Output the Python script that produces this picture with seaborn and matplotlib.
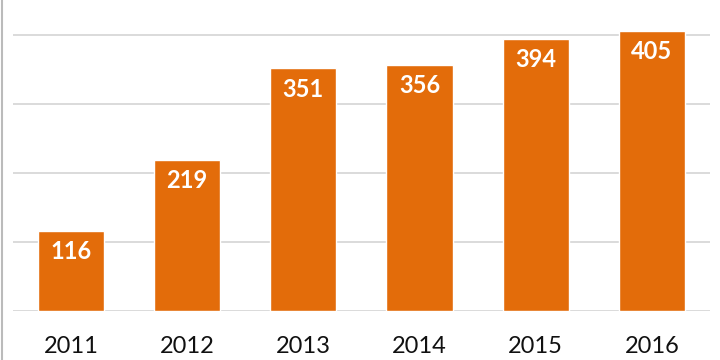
import matplotlib
matplotlib.use("Agg")
import matplotlib.pyplot as plt
import seaborn as sns
import pandas as pd

# ============================================================
# DATA
# ============================================================

years = ["2011", "2012", "2013", "2014", "2015", "2016"]
values = [116, 219, 351, 356, 394, 405]

df = pd.DataFrame({"year": years, "value": values})

# ============================================================
# STYLE
# ============================================================

sns.set_style("white")
plt.rcParams["font.family"] = ["Lato", "DejaVu Sans"]

bar_color = "#E36C0A"
grid_color = "#D4D4D4"

# ============================================================
# PLOT
# ============================================================

fig = plt.figure(figsize=(7.2, 3.6), dpi=100)
ax = fig.add_axes([0.018, 0.136, 0.968, 0.864])

sns.barplot(
    data=df,
    x="year",
    y="value",
    color=bar_color,
    saturation=1,
    width=0.57,
    ax=ax,
    zorder=3
)

ax.set_ylim(0, 450)
ax.set_yticks([0, 100, 200, 300, 400])
ax.set_yticklabels([])
ax.yaxis.grid(True, color=grid_color, linewidth=1.2, zorder=0)
ax.set_axisbelow(True)

for s in ax.spines.values():
    s.set_visible(False)

ax.tick_params(axis="both", length=0)
ax.tick_params(axis="x", labelsize=17, pad=18, labelcolor="#111111")
ax.set_xlabel("")
ax.set_ylabel("")

# value labels inside bars
for p, v in zip(ax.patches, values):
    ax.annotate(
        f"{v}",
        (p.get_x() + p.get_width() / 2, p.get_height()),
        xytext=(0, -15),
        textcoords="offset points",
        ha="center",
        va="center",
        color="white",
        fontsize=17,
        fontweight="bold",
        zorder=4
    )

# thin frame line at left edge
fig.add_artist(plt.Line2D([0.003, 0.003], [0, 1], color="#BBBBBB", linewidth=1.5))

fig.savefig("out.png", dpi=100)
